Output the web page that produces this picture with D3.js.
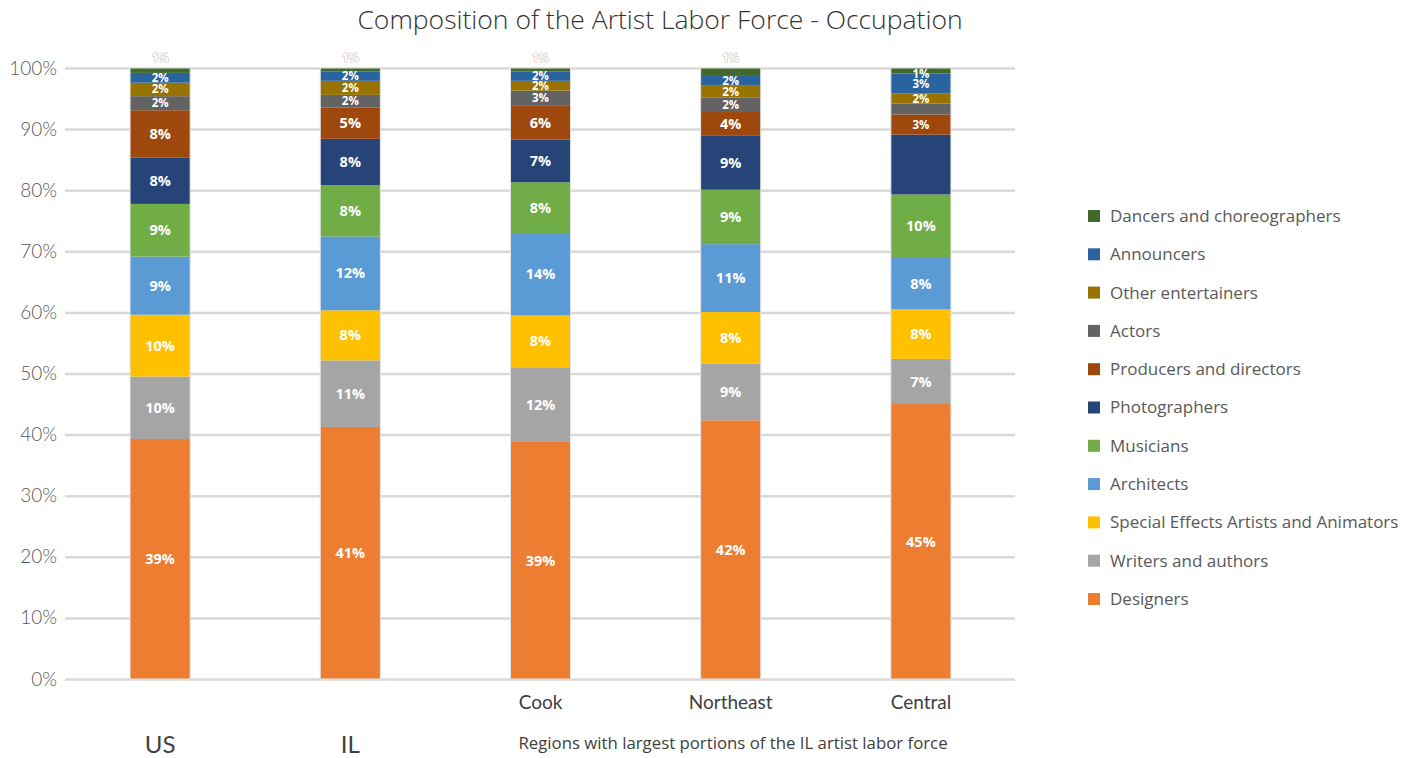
<!DOCTYPE html>
<html>
<head>
<meta charset="utf-8">
<script src="https://cdn.jsdelivr.net/npm/d3@7"></script>
<style>
  html, body { margin: 0; padding: 0; background: #fff; }
  svg { display: block; }
</style>
</head>
<body>
<svg id="chart" width="1416" height="758"></svg>
<script>
const categories = ["US", "IL", "Cook", "Northeast", "Central"];
const series = [
  "Designers", "Writers and authors", "Special Effects Artists and Animators",
  "Architects", "Musicians", "Photographers", "Producers and directors",
  "Actors", "Other entertainers", "Announcers", "Dancers and choreographers"
];
const designers     = [39.2, 41.3, 38.8, 42.3, 45.0];
const writers       = [10.2, 10.9, 12.2, 9.3, 7.4];
const specialFx     = [10.1, 8.2, 8.49, 8.4, 8.1];
const architects    = [9.49, 12.1, 13.5, 11.1, 8.4];
const musicians     = [8.6, 8.4, 8.3, 8.9, 10.4];
const photographers = [7.6, 7.6, 7.0, 8.9, 9.8];
const producers     = [7.7, 5.1, 5.5, 3.8, 3.3];
const actors        = [2.3, 2.1, 2.5, 2.4, 1.8];
const otherEnt      = [2.2, 2.3, 1.6, 1.9, 1.6];
const announcers    = [1.6, 1.5, 1.5, 1.6, 3.3];
const dancers       = [0.8, 0.6, 0.6, 1.3, 0.9];
const yTicks = [0, 10, 20, 30, 40, 50, 60, 70, 80, 90, 100];
const hiddenLabels = [["Central", "Photographers"], ["Central", "Actors"]];
const colors = ["#ed7d31", "#a5a5a5", "#ffc000", "#5b9bd5", "#70ad47", "#264478",
                "#9e480e", "#636363", "#997300", "#2a64a0", "#43682b"];

const valueArrays = [designers, writers, specialFx, architects, musicians, photographers,
                     producers, actors, otherEnt, announcers, dancers];
const rows = categories.map((c, i) => {
  const r = { category: c };
  series.forEach((s, j) => r[s] = valueArrays[j][i]);
  return r;
});

const svg = d3.select("#chart");
const font = "Lato, 'Open Sans', sans-serif";
const wide = "'Open Sans', Lato, sans-serif";

const x = d3.scaleBand().domain(categories).range([65, 1016]).paddingInner(0.684).paddingOuter(0.342);
const y = d3.scaleLinear().domain([0, 100]).range([679, 68]);
const color = d3.scaleOrdinal().domain(series).range(colors);

// title
svg.append("text").attr("x", 660).attr("y", 29).attr("text-anchor", "middle")
  .attr("font-family", wide).attr("font-weight", 300).attr("font-size", 26.5)
  .attr("fill", "#333").text("Composition of the Artist Labor Force - Occupation");

// gridlines + y axis
const yAxis = d3.axisLeft(y).tickValues(yTicks).tickSize(-(1015 - 65)).tickFormat(d => d + "%").tickPadding(8);
const gy = svg.append("g").attr("transform", "translate(65,0)").call(yAxis);
gy.select(".domain").remove();
gy.selectAll(".tick line").attr("stroke", "#d9d9d9").attr("stroke-width", 2.5);
gy.selectAll(".tick text").attr("font-family", font).attr("font-weight", 300).attr("font-size", 19)
  .attr("fill", "#595959").attr("x", -8);

// stacked bars
const stack = d3.stack().keys(series).offset(d3.stackOffsetExpand);
const stacked = stack(rows);

const layers = svg.append("g").selectAll("g").data(stacked).join("g")
  .attr("fill", d => color(d.key));
layers.selectAll("rect").data(d => d.map(p => ({ p, key: d.key }))).join("rect")
  .attr("x", d => x(d.p.data.category))
  .attr("width", x.bandwidth())
  .attr("y", d => y(d.p[1] * 100))
  .attr("height", d => y(d.p[0] * 100) - y(d.p[1] * 100));

// bar outline
svg.append("g").selectAll("rect").data(categories).join("rect")
  .attr("x", d => x(d)).attr("width", x.bandwidth())
  .attr("y", y(100)).attr("height", y(0) - y(100))
  .attr("fill", "none").attr("stroke", "#e4e4e4").attr("stroke-width", 1);

// data labels
const isHidden = (c, k) => hiddenLabels.some(h => h[0] === c && h[1] === k);
const labels = [];
stacked.forEach(layer => {
  layer.forEach(p => {
    const c = p.data.category;
    if (isHidden(c, layer.key)) return;
    const raw = p.data[layer.key];
    const y0 = y(p[0] * 100), y1 = y(p[1] * 100);
    let cy = (y0 + y1) / 2;
    let ghost = false;
    if (layer.key === "Dancers and choreographers") {
      if (c === "Central") { cy = y1 + 6; } else { cy = y1 - 10; ghost = true; }
    }
    labels.push({ c, raw, cy, ghost });
  });
});
svg.append("g").selectAll("text").data(labels).join("text")
  .attr("x", d => x(d.c) + x.bandwidth() / 2)
  .attr("y", d => d.cy)
  .attr("dy", "0.35em")
  .attr("text-anchor", "middle")
  .attr("font-family", "'Open Sans', sans-serif")
  .attr("font-weight", 700)
  .attr("font-size", d => d.raw >= 3.5 ? 14.5 : 11.5)
  .attr("fill", "#ffffff")
  .attr("stroke", d => d.ghost ? "#c8c8c8" : "none")
  .attr("stroke-width", d => d.ghost ? 1.2 : 0)
  .attr("paint-order", "stroke")
  .text(d => Math.round(d.raw) + "%");

// category labels
const small = ["Cook", "Northeast", "Central"];
svg.append("g").selectAll("text").data(categories).join("text")
  .attr("x", d => x(d) + x.bandwidth() / 2)
  .attr("y", d => small.includes(d) ? 709 : 753)
  .attr("text-anchor", "middle")
  .attr("font-family", font)
  .attr("font-size", d => small.includes(d) ? 19 : 24)
  .attr("fill", "#404040")
  .text(d => d);

svg.append("text").attr("x", 733).attr("y", 749).attr("text-anchor", "middle")
  .attr("font-family", wide).attr("font-size", 16.8).attr("fill", "#404040")
  .text("Regions with largest portions of the IL artist labor force");

// legend (reverse order)
const legendItems = series.slice().reverse();
const lg = svg.append("g").selectAll("g").data(legendItems).join("g")
  .attr("transform", (d, i) => `translate(1088, ${216 + i * 38.3})`);
lg.append("rect").attr("x", 0).attr("y", -6).attr("width", 12).attr("height", 12)
  .attr("fill", d => color(d));
lg.append("text").attr("x", 22).attr("y", 0).attr("dy", "0.35em")
  .attr("font-family", wide).attr("font-size", 17).attr("fill", "#595959")
  .text(d => d);
</script>
</body>
</html>
